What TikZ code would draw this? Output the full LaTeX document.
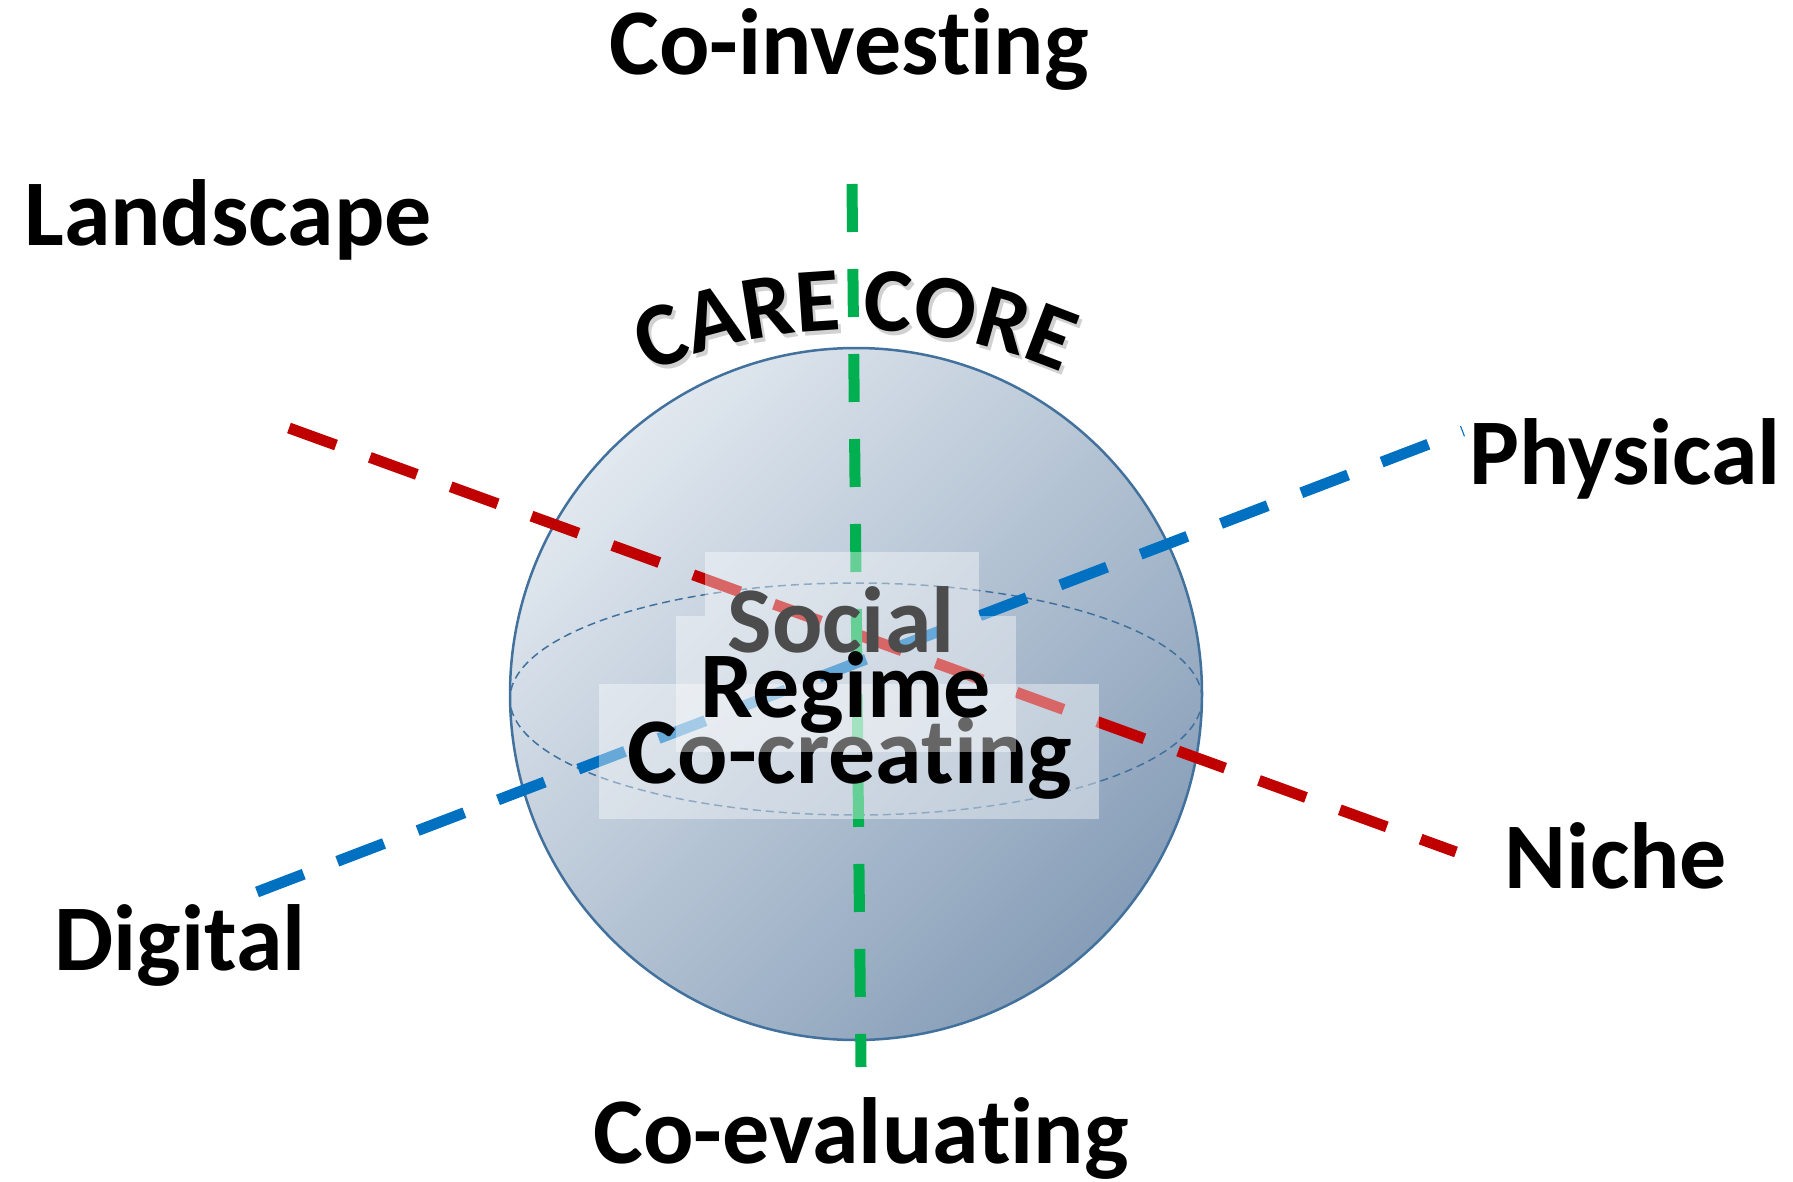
\documentclass[tikz,border=0pt]{standalone}
\usepackage{fontspec}
\setmainfont{Carlito}[Ligatures=NoCommon]
\usetikzlibrary{decorations.text}
\definecolor{redl}{HTML}{C00000}
\definecolor{bluel}{HTML}{0070C0}
\definecolor{greenl}{HTML}{00B050}
\definecolor{rim}{HTML}{41719C}
\definecolor{sphlight}{HTML}{E1E8EF}
\definecolor{sphdark}{HTML}{879EB8}
\newcommand\lblfont{\fontsize{94}{100}\selectfont\bfseries}
\newcommand\carefont{\fontsize{91}{91}\selectfont\bfseries}
\begin{document}
\begin{tikzpicture}[x=1pt,y=-1pt,
  axisline/.style={line width=11pt, dash pattern=on 50pt off 36pt},
  lbl/.style={font=\lblfont, inner sep=0pt, anchor=base},
  glass/.style={fill=white, fill opacity=0.4, draw=none},
  caretext/.style={decorate, decoration={text along path, text={|\carefont|CARE CORE}, text align=center}},
]
\useasboundingbox (0,0) rectangle (1793,1182);
% sphere
\coordinate (C) at (856,694);
\shade[top color=sphlight, bottom color=sphdark, shading angle=45] (C) circle[radius=346];
\draw[rim, line width=2.5pt] (C) circle[radius=346];
\draw[rim, line width=1.5pt, dash pattern=on 8pt off 5pt] (856,699) ellipse[x radius=346, y radius=116];
% axes
\coordinate (rS) at (289,428); \coordinate (rE) at (1456,852);
\coordinate (bS) at (257,892); \coordinate (bE) at (1463,431);
\coordinate (gS) at (852,184); \coordinate (gE) at (861,1067);
\draw[axisline, redl] (rS) -- (rE);
\draw[axisline, bluel] (bS) -- (bE);
\draw[axisline, greenl, dash pattern=on 48pt off 37pt] (gS) -- (gE);
% CARE CORE
\begin{scope}[shift={(3,4)}, opacity=0.18]
\path[caretext] (855,850) ++(225:520) arc[start angle=225, end angle=315, radius=520];
\end{scope}
\path[caretext] (855,850) ++(225:520) arc[start angle=225, end angle=315, radius=520];
% centre boxes and labels
\path[glass] (599,684) rectangle (1099,819);
\node[lbl] (cocr) at (850,783) {Co-creating};
\path[glass] (676,616) rectangle (1016,752);
\path[glass] (705,552) rectangle (979,616);
\node[lbl, text=black!70] (social) at (841,652) {Social};
\node[lbl] (regime) at (846,717) {Regime};
% outer labels
\node[lbl] (coinv) at (849,75) {Co-investing};
\node[lbl] (land) at (228,246) {Landscape};
\node[lbl] (phys) at (1625,484) {Physical};
\node[lbl] (niche) at (1616,888) {Niche};
\node[lbl] (dig) at (180,970) {Digital};
\node[lbl] (coeval) at (861,1163) {Co-evaluating};
\end{tikzpicture}
\end{document}
